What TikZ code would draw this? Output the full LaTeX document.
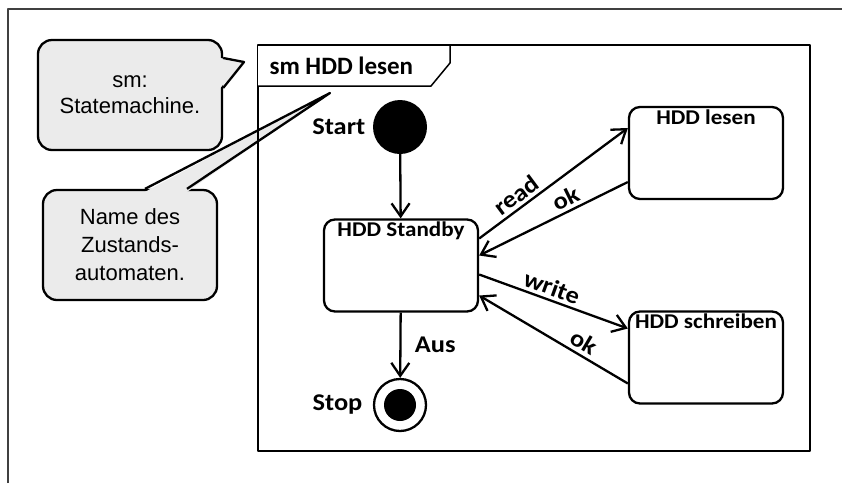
\documentclass[tikz,border=0pt]{standalone}
\usepackage{fontspec}
\newfontfamily\umlfont{Carlito}[FakeStretch=1.1]
\newfontfamily\titlefont{Carlito}
\newfontfamily\notefont{Liberation Sans}
\usetikzlibrary{arrows.meta, positioning}
\definecolor{notegray}{HTML}{EBEBEB}

\begin{document}
\begin{tikzpicture}[x=1pt,y=-1pt,line join=round,
        >={Straight Barb[length=13pt,width=18pt]},
        font=\umlfont\bfseries\fontsize{21}{24}\selectfont,
        base line/.style={line width=2.3pt},
        state node/.style={draw,base line,rounded corners=11pt,minimum width=154pt,minimum height=92pt,inner sep=0pt},
        pseudo node/.style={circle,minimum size=54pt,inner sep=0pt},
        note node/.style={draw,base line,fill=notegray,rounded corners=14pt,align=center,
            font=\notefont\fontsize{22}{26}\selectfont},
        trans label/.style={font=\umlfont\bfseries\fontsize{24}{28}\selectfont}]
        \useasboundingbox (0,0) rectangle (842,483);
        \draw[line width=1.5pt,black!75] (8,483) -- (8,9) -- (842,9);

        % notes
        \node[note node,minimum width=184pt,minimum height=110pt] (smnote) at (130,95) {sm:\\Statemachine.};
        \node[note node,minimum width=174pt,minimum height=110pt,
            font=\notefont\fontsize{22}{28}\selectfont] (namenote) at (130,245) {Name des\\Zustands-\\automaten.};
        \coordinate (smtip) at (244,62);
        \coordinate (nametip) at (330,93);
        \fill[notegray] ([xshift=-3pt,yshift=37pt]smnote.east) -- (smtip) -- ([xshift=-3pt,yshift=7pt]smnote.east) -- cycle;
        \draw[base line] ([yshift=37pt]smnote.east) -- (smtip) -- ([yshift=7pt]smnote.east);
        \fill[notegray] ([xshift=15pt,yshift=-3pt]namenote.north) -- (nametip) -- ([xshift=57pt,yshift=-3pt]namenote.north) -- cycle;
        \draw[base line] ([xshift=15pt]namenote.north) -- (nametip) -- ([xshift=57pt]namenote.north);

        % frame
        \draw[line width=1.5pt] (258,45) rectangle (810,451);
        \draw[line width=1.5pt,fill=white] (258,45) -- (450,45) -- (450,63) -- (431,86) -- (258,86);
        \node[anchor=west,font=\titlefont\bfseries\fontsize{25}{30}\selectfont] (title) at (266,66) {sm HDD lesen};

        % states
        \node[pseudo node,fill,label={[trans label,label distance=4pt]left:Start}] (start) at (400,127) {};
        \node[state node,label={[anchor=north]north:HDD Standby}] (standby) at (401,265.5) {};
        \node[state node,label={[anchor=north]north:HDD lesen}] (lesen) at (706,153) {};
        \node[state node,label={[anchor=north]north:HDD schreiben}] (schreiben) at (706,357.5) {};
        \node[pseudo node,draw,base line,minimum size=52pt,
            path picture={\fill (path picture bounding box.center) circle (16pt);},
            label={[trans label,label distance=7pt]left:Stop}] (stop) at (400,405) {};

        \path[->,base line]
        (start) edge (standby)
        (standby) edge node[trans label,right=10pt] {Aus} (stop)
        ([yshift=27pt]standby.east) edge node[trans label,sloped,above,pos=0.3] {read} ([yshift=25pt]lesen.west)
        ([yshift=-29pt]lesen.west) edge node[trans label,sloped,above,pos=0.38] {ok} ([yshift=10pt]standby.east)
        ([yshift=-9pt]standby.east) edge node[trans label,sloped,above,pos=0.46] {write} ([yshift=29pt]schreiben.west)
        ([yshift=-26pt]schreiben.west) edge node[trans label,sloped,above,pos=0.34] {ok} ([yshift=-30pt]standby.east);
\end{tikzpicture}
\end{document}
